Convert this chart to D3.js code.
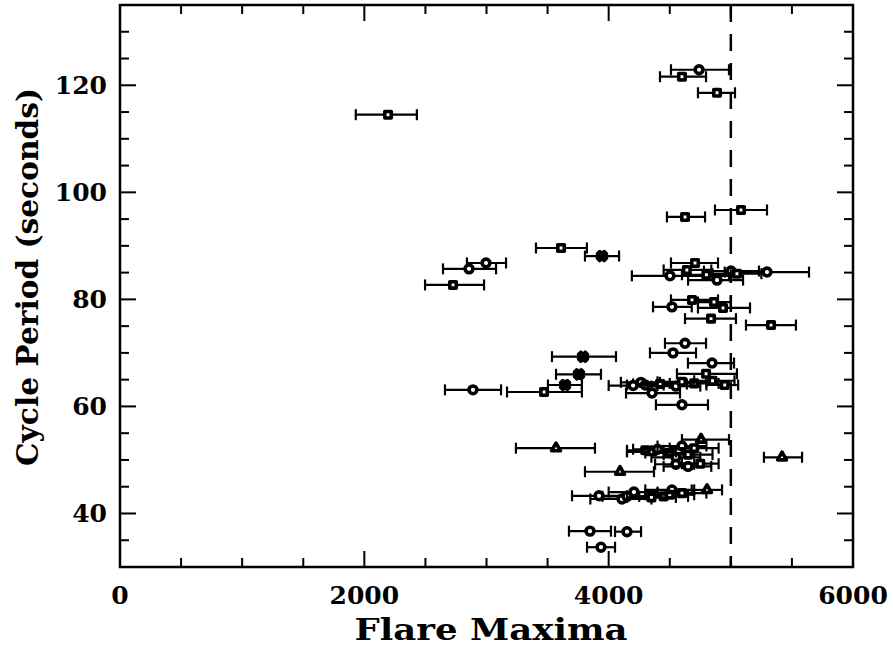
<!DOCTYPE html>
<html>
<head>
<meta charset="utf-8">
<script src="https://cdn.jsdelivr.net/npm/d3@7"></script>
<style>
  html, body { margin: 0; padding: 0; background: #fff; }
  text { font-family: "DejaVu Serif", "Liberation Serif", serif; font-weight: bold; fill: #000; }
</style>
</head>
<body>
<div id="chart"></div>
<script>
// flare maximum (x), its error range, cycle period (y), marker shape
const flareMax = [2194, 4740, 4600, 4887, 4625, 5083, 3610, 3945, 2996, 2857, 2726,
  4707, 4502, 5296, 5001, 4887, 4800, 4640, 5050,
  4518, 4682, 4862, 4936, 4838, 5329, 4625, 4527,
  3790, 3757, 3643, 2889, 3471, 4846, 4797,
  4264, 4300, 4420, 4550, 4700, 4850, 4950, 4200, 4600, 4355, 4600,
  3569, 4093, 5419, 4756,
  4300, 4400, 4500, 4600, 4650, 4550, 4350, 4700,
  4550, 4650, 4750,
  3921, 4109, 4207, 4150, 4518, 4450, 4500, 4600, 4805, 4350,
  3847, 4150, 3937];
const flareLo = [1930, 4510, 4420, 4731, 4477, 4870, 3405, 3806, 2840, 2644, 2497,
  4510, 4190, 4950, 4780, 4650, 4600, 4450, 4850,
  4363, 4510, 4731, 4731, 4625, 5124, 4461, 4338,
  3536, 3569, 3503, 2660, 3168, 4649, 4559,
  4100, 4150, 4200, 4350, 4500, 4700, 4800, 4000, 4400, 4142, 4387,
  3241, 3806, 5271, 4600,
  4150, 4200, 4300, 4400, 4450, 4350, 4150, 4500,
  4380, 4450, 4600,
  3700, 3850, 4000, 3950, 4300, 4250, 4300, 4400, 4680, 4150,
  3675, 4052, 3823];
const flareHi = [2430, 4985, 4797, 5034, 4789, 5296, 3822, 4085, 3160, 3078, 2980,
  4895, 4985, 5640, 5230, 5100, 5000, 4840, 5250,
  4680, 4895, 5000, 5157, 5042, 5533, 4797, 4715,
  4060, 3937, 3781, 3119, 3781, 5026, 5050,
  4420, 4450, 4640, 4750, 4900, 5030, 5060, 4400, 4800, 4584, 4813,
  3888, 4371, 5583, 4985,
  4450, 4600, 4700, 4800, 4850, 4750, 4550, 4900,
  4700, 4840, 4900,
  4150, 4350, 4400, 4350, 4700, 4650, 4700, 4800, 4928, 4550,
  4019, 4265, 4052];
const period = [114.5, 122.9, 121.6, 118.6, 95.4, 96.7, 89.6, 88.1, 86.8, 85.7, 82.7,
  86.8, 84.4, 85.1, 85.3, 83.6, 84.6, 85.5, 84.8,
  78.6, 79.9, 79.5, 78.4, 76.4, 75.2, 71.8, 70.0,
  69.3, 66.0, 64.0, 63.1, 62.7, 68.1, 66.1,
  64.5, 64.0, 64.2, 63.8, 64.3, 64.8, 64.0, 63.9, 64.6, 62.5, 60.3,
  52.2, 47.8, 50.5, 53.8,
  51.8, 52.0, 51.3, 52.6, 51.0, 50.5, 51.5, 52.2,
  49.2, 48.8, 49.3,
  43.3, 42.7, 44.0, 43.2, 44.4, 43.2, 43.5, 43.8, 44.4, 43.0,
  36.7, 36.6, 33.7];
const shape = ["s", "o", "s", "s", "s", "s", "s", "x", "o", "o", "s",
  "s", "o", "o", "o", "o", "s", "s", "s",
  "o", "s", "s", "s", "s", "s", "o", "o",
  "x", "x", "x", "o", "s", "o", "s",
  "o", "o", "s", "o", "s", "s", "s", "o", "s", "o", "o",
  "t", "t", "t", "t",
  "s", "o", "s", "o", "s", "o", "t", "s",
  "o", "o", "s",
  "o", "o", "o", "o", "o", "s", "s", "s", "t", "s",
  "o", "o", "o"];

const xLabels = [0, 2000, 4000, 6000];
const yLabels = [40, 60, 80, 100, 120];
const limitX = 5000;
const xTitle = "Flare Maxima";
const yTitle = "Cycle Period (seconds)";

const width = 893, height = 648;
const margin = { top: 5, right: 40, bottom: 81, left: 120 };
const w = width - margin.left - margin.right;
const h = height - margin.top - margin.bottom;

const svg = d3.select("#chart").append("svg")
  .attr("width", width)
  .attr("height", height);
const g = svg.append("g")
  .attr("transform", `translate(${margin.left},${margin.top})`);

const x = d3.scaleLinear().domain([0, 6000]).range([0, w]);
const y = d3.scaleLinear().domain([30, 135]).range([h, 0]);

// ticks, all pointing inward, on the four sides
const xMinor = d3.range(0, 6001, 500);
const yMinor = d3.range(30, 136, 5);
const majLen = 16, minLen = 9;
const ticks = g.append("g").attr("stroke", "#000").attr("stroke-width", 2);
xMinor.forEach(v => {
  const len = v % 2000 === 0 ? majLen : minLen;
  ticks.append("line").attr("x1", x(v)).attr("x2", x(v)).attr("y1", h).attr("y2", h - len);
  ticks.append("line").attr("x1", x(v)).attr("x2", x(v)).attr("y1", 0).attr("y2", len);
});
yMinor.forEach(v => {
  const len = v % 20 === 0 ? majLen : minLen;
  ticks.append("line").attr("y1", y(v)).attr("y2", y(v)).attr("x1", 0).attr("x2", len);
  ticks.append("line").attr("y1", y(v)).attr("y2", y(v)).attr("x1", w).attr("x2", w - len);
});

// frame
g.append("rect")
  .attr("width", w).attr("height", h)
  .attr("fill", "none").attr("stroke", "#000").attr("stroke-width", 2.5);

// tick labels
g.selectAll("text.xl").data(xLabels).enter().append("text")
  .attr("class", "xl")
  .attr("x", d => x(d)).attr("y", h + 37)
  .attr("text-anchor", "middle")
  .attr("font-size", 25)
  .text(d => d);
g.selectAll("text.yl").data(yLabels).enter().append("text")
  .attr("class", "yl")
  .attr("x", -13).attr("y", d => y(d) + 9)
  .attr("text-anchor", "end")
  .attr("font-size", 25)
  .text(d => d);

// axis titles
svg.append("text")
  .attr("x", 491).attr("y", 640)
  .attr("text-anchor", "middle")
  .attr("font-size", 29)
  .attr("textLength", 273).attr("lengthAdjust", "spacingAndGlyphs")
  .text(xTitle);
svg.append("text")
  .attr("transform", "translate(38,277) rotate(-90)")
  .attr("text-anchor", "middle")
  .attr("font-size", 29)
  .attr("textLength", 378).attr("lengthAdjust", "spacingAndGlyphs")
  .text(yTitle);

// dashed limit line
g.append("line")
  .attr("x1", x(limitX)).attr("x2", x(limitX))
  .attr("y1", 0).attr("y2", h)
  .attr("stroke", "#000").attr("stroke-width", 2.5)
  .attr("stroke-dasharray", "17,12");

// points with horizontal error bars
const pts = flareMax.map((v, i) => ({ v, lo: flareLo[i], hi: flareHi[i], p: period[i], s: shape[i] }));
const pg = g.selectAll("g.pt").data(pts).enter().append("g")
  .attr("class", "pt")
  .attr("stroke", "#000").attr("stroke-width", 2.2).attr("fill", "none");

pg.append("line")
  .attr("x1", d => x(d.lo)).attr("x2", d => x(d.hi))
  .attr("y1", d => y(d.p)).attr("y2", d => y(d.p));
pg.append("line")
  .attr("x1", d => x(d.lo)).attr("x2", d => x(d.lo))
  .attr("y1", d => y(d.p) - 5.5).attr("y2", d => y(d.p) + 5.5);
pg.append("line")
  .attr("x1", d => x(d.hi)).attr("x2", d => x(d.hi))
  .attr("y1", d => y(d.p) - 5.5).attr("y2", d => y(d.p) + 5.5);

const symType = { s: d3.symbolSquare, o: d3.symbolCircle, x: d3.symbolCross, t: d3.symbolTriangle };
const symSize = { s: 42, o: 48, x: 50, t: 34 };
pg.append("path")
  .attr("transform", d => `translate(${x(d.v)},${y(d.p)})` + (d.s === "x" ? " rotate(45)" : ""))
  .attr("d", d => d3.symbol().type(symType[d.s]).size(symSize[d.s])())
  .attr("stroke-width", 3.6)
  .attr("stroke-linejoin", "round")
  .attr("fill", d => d.s === "x" ? "#000" : "#fff");
</script>
</body>
</html>
